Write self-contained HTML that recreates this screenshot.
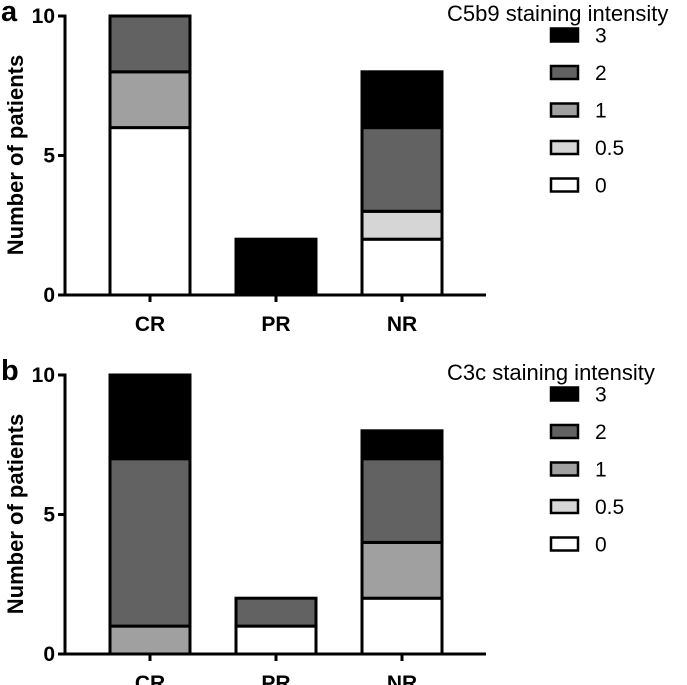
<!DOCTYPE html>
<html><head><meta charset="utf-8"><style>
body{margin:0;background:#fff;}
svg{display:block;font-family:"Liberation Sans",Arial,sans-serif;}
</style></head><body>
<svg id="chart" width="687" height="685"></svg>
<script>
const categories = ["CR","PR","NR"];
const levels = ["0","0.5","1","2","3"];
const colors = {"0":"#ffffff","0.5":"#d6d6d6","1":"#a0a0a0","2":"#626262","3":"#000000"};
// panel a (C5b9) counts per level for CR, PR, NR
const c5b9_0 = [6,0,2];
const c5b9_05 = [0,0,1];
const c5b9_1 = [2,0,0];
const c5b9_2 = [2,0,3];
const c5b9_3 = [0,2,2];
// panel b (C3c)
const c3c_0 = [0,1,2];
const c3c_05 = [0,0,0];
const c3c_1 = [1,0,2];
const c3c_2 = [6,1,3];
const c3c_3 = [3,0,1];
const yTicks = [0,5,10];
const legendOrder = ["3","2","1","0.5","0"];

const NS="http://www.w3.org/2000/svg";
const svg=document.getElementById('chart');
function mk(tag,attrs,parent,text){const e=document.createElementNS(NS,tag);for(const k in attrs)e.setAttribute(k,attrs[k]);if(text!==undefined)e.textContent=text;(parent||svg).appendChild(e);return e;}

function panel(letter,title,series,off,key){
  const g=mk('g',{});
  
  
  const y0=295+off,y10=16+off,x0=65,x1=486;
  const y=v=>y0+(y10-y0)*v/10;
  const xc=i=>150+i*126;
  const bw=80;
  categories.forEach((c,i)=>{
    let acc=0;
    levels.forEach(l=>{
      const v=series[l][i];
      if(v>0){
        const r=mk('rect',{x:xc(i)-bw/2,y:y(acc+v),width:bw,height:y(acc)-y(acc+v),fill:colors[l],stroke:'#000','stroke-width':3},g);
        
        
      }
      acc+=v;
    });
    mk('line',{x1:xc(i),x2:xc(i),y1:y0,y2:y0+7,stroke:'#000','stroke-width':3},g);
    const t=mk('text',{x:xc(i),y:y0+36,'text-anchor':'middle','font-size':21,'font-weight':'bold'},g,c);
    
    
  });
  const ya=mk('line',{x1:x0,x2:x0,y1:y10-1.5,y2:y0+1.5,stroke:'#000','stroke-width':3},g);
  
  const xa=mk('line',{x1:x0-1.5,x2:x1,y1:y0,y2:y0,stroke:'#000','stroke-width':3},g);
  
  yTicks.forEach(v=>{
    mk('line',{x1:x0-7,x2:x0,y1:y(v),y2:y(v),stroke:'#000','stroke-width':3},g);
    const t=mk('text',{x:x0-10,y:y(v)+7,'text-anchor':'end','font-size':21,'font-weight':'bold'},g,String(v));
    
  });
  const yl=mk('text',{transform:'translate(23,'+(155+off)+') rotate(-90)','text-anchor':'middle','font-size':22,'font-weight':'bold'},g,'Number of patients');
  
  const pl=mk('text',{x:1,y:21+off,'font-size':29,'font-weight':'bold'},g,letter);
  
  const lt=mk('text',{x:447,y:21+off,'font-size':22},g,title);
  
  legendOrder.forEach((l,j)=>{
    const cy=35+off+j*37.5;
    const e=mk('g',{},g);
    
    
    mk('rect',{x:551,y:cy-6.5,width:27,height:13,fill:colors[l],stroke:'#000','stroke-width':2.5},e);
    mk('text',{x:595,y:cy+7.5,'font-size':21},e,l);
  });
}
panel('a','C5b9 staining intensity',{"0":c5b9_0,"0.5":c5b9_05,"1":c5b9_1,"2":c5b9_2,"3":c5b9_3},0,'c5b9');
panel('b','C3c staining intensity',{"0":c3c_0,"0.5":c3c_05,"1":c3c_1,"2":c3c_2,"3":c3c_3},359,'c3c');
</script>
</body></html>
